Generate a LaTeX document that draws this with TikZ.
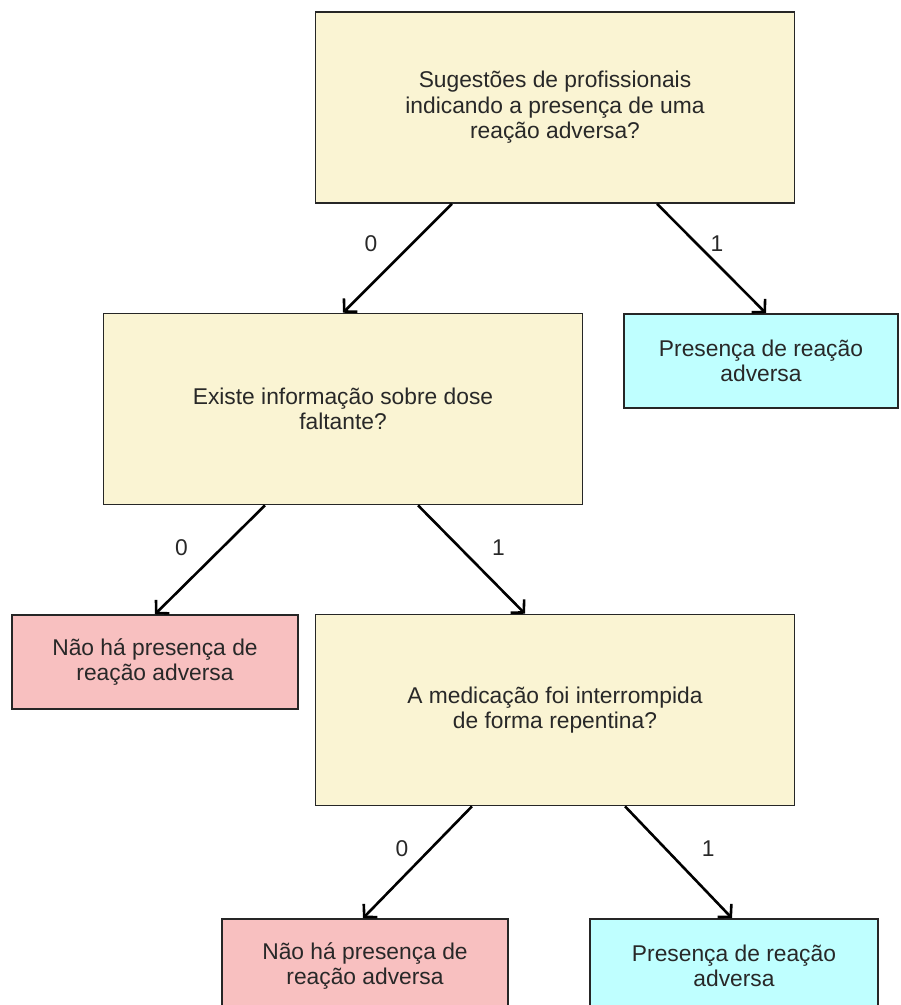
\documentclass[tikz,border=0pt]{standalone}
\usepackage{fontspec}
\setmainfont{Liberation Sans}
\usetikzlibrary{arrows.meta,positioning}

\definecolor{askfill}{RGB}{250,244,211}
\definecolor{yesfill}{RGB}{191,255,255}
\definecolor{nofill}{RGB}{248,192,192}
\definecolor{txtgray}{RGB}{40,40,40}

\tikzset{
	box/.style={draw=black!85, line width=1.6pt, inner sep=0pt, align=center,
		text=txtgray, font=\fontsize{22.8}{25.5}\selectfont},
	ask/.style={box, fill=askfill, minimum width=479pt, minimum height=191pt},
	yes/.style={box, fill=yesfill, minimum width=287pt, minimum height=94pt},
	no/.style={box, fill=nofill, minimum width=286pt, minimum height=94pt},
	lbl/.style={text=txtgray, font=\fontsize{22.8}{25.5}\selectfont, inner sep=3pt},
	>={Straight Barb[length=9pt,width=19pt]}
}

\begin{document}
\begin{tikzpicture}[x=1pt, y=-1pt]
	\useasboundingbox (0,0) rectangle (901,1005);
	\clip (0,0) rectangle (901,1005);

	\node[ask] (Q1) at (555,107.5) {Sugestões de profissionais\\indicando a presença de uma\\reação adversa?};
	\node[ask] (Q2) at (343,409) {Existe informação sobre dose\\faltante?};
	\node[ask] (Q3) at (555,710) {A medicação foi interrompida\\de forma repentina?};

	\node[yes, minimum width=274pt] (Y1) at (761,361) {Presença de reação\\adversa};
	\node[no] (N1) at (155,662) {Não há presença de\\reação adversa};
	\node[no] (N2) at (365,966) {Não há presença de\\reação adversa};
	\node[yes, minimum width=288pt] (Y2) at (734,966) {Presença de reação\\adversa};

	\path [->, line width=2.6pt] ([xshift=-103pt]Q1.south) edge node[lbl, pos=0.37, left=30pt] {0} (Q2.north);
	\path [->, line width=2.6pt] ([xshift=102pt]Q1.south) edge node[lbl, pos=0.36, right=10pt] {1} ([xshift=5pt]Y1.north);
	\path [->, line width=2.6pt] ([xshift=-78pt]Q2.south) edge node[lbl, pos=0.39, left=30pt] {0} (N1.north);
	\path [->, line width=2.6pt] ([xshift=75pt]Q2.south) edge node[lbl, pos=0.39, right=28pt] {1} ([xshift=-30pt]Q3.north);
	\path [->, line width=2.6pt] ([xshift=-83pt]Q3.south) edge node[lbl, pos=0.38, left=18pt] {0} ([xshift=-2pt]N2.north);
	\path [->, line width=2.6pt] ([xshift=70pt]Q3.south) edge node[lbl, pos=0.38, right=32pt] {1} ([xshift=-2pt]Y2.north);
\end{tikzpicture}
\end{document}
